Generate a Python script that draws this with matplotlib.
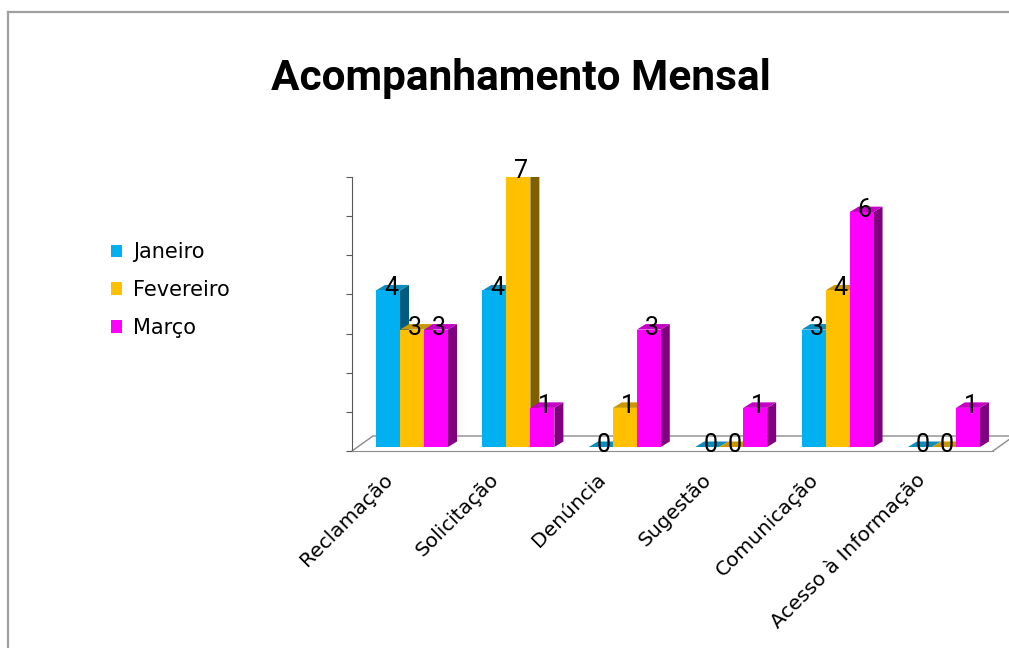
import numpy as np
import matplotlib
matplotlib.use("Agg")
import matplotlib.pyplot as plt
from matplotlib.patches import Polygon
from matplotlib.lines import Line2D

categorias = ['Reclamação', 'Solicitação', 'Denúncia', 'Sugestão', 'Comunicação', 'Acesso à Informação']
meses = ['Janeiro', 'Fevereiro', 'Março']
janeiro = [4, 4, 0, 0, 3, 0]
fevereiro = [3, 7, 1, 0, 4, 0]
marco = [3, 1, 3, 1, 6, 1]

# front / top / side colours for each series
cores = [('#00B0F0', '#0E8DBF', '#005D80'),
         ('#FFC000', '#C99700', '#7F6000'),
         ('#FF00FF', '#C400C4', '#800080')]

narrow = ['Liberation Sans Narrow', 'Roboto', 'DejaVu Sans']

fig = plt.figure(figsize=(10.09, 6.48), dpi=100)
ax = fig.add_axes([352/1009, (648-451)/648, 641/1009, 274/648])
ax.set_xlim(-0.564, 5.461)
ax.set_ylim(0, 7)

pxx = 1/106.4   # data units per pixel (x)
pxy = 7/274     # data units per pixel (y)
w = 24*pxx
base = 4*pxy
ddx, ddy = 9*pxx, 5.5*pxy

x = np.arange(len(categorias))
series = [janeiro, fevereiro, marco]

# painter's order: left to right
for i in range(len(categorias)):
    for k, vals in enumerate(series):
        front, top, side = cores[k]
        xl = x[i] + (k - 1.5)*w
        xr = xl + w
        h = base + vals[i]
        ax.add_patch(Polygon([(xr, base), (xr+ddx, base+ddy), (xr+ddx, h+ddy), (xr, h)],
                             closed=True, fc=side, ec='none', zorder=3))
        ax.add_patch(Polygon([(xl, h), (xr, h), (xr+ddx, h+ddy), (xl+ddx, h+ddy)],
                             closed=True, fc=top, ec='none', zorder=3))
        ax.bar(xl, vals[i], width=w, bottom=base, align='edge', color=front, zorder=3)
        ax.text(xl + w/2 + 3*pxx, h + 2*pxy, str(vals[i]), ha='center', va='center',
                fontsize=18, family=narrow, zorder=5)

# floor of the 3D plot
fdx, fdy = 21*pxx, 15*pxy
x0, x1 = ax.get_xlim()
floor = dict(color='#8C8C8C', lw=1, clip_on=False, zorder=1)
ax.add_line(Line2D([x0, x0+fdx, x1+fdx+0.2], [0, fdy, fdy], **floor))
ax.add_line(Line2D([x1, x1+fdx], [0, fdy], **floor))

for s in ['top', 'right']:
    ax.spines[s].set_visible(False)
ax.spines['bottom'].set_color('#8C8C8C')
ax.spines['left'].set_color('#595959')
ax.set_yticks(range(0, 8))
ax.set_yticklabels([])
ax.tick_params(axis='y', length=4, color='#595959')
ax.set_xticks([])

for i, c in enumerate(categorias):
    ax.annotate(c, xy=(x[i], 0), xycoords=('data', 'axes fraction'),
                xytext=(-16, -18.5), textcoords='offset points',
                rotation=45, ha='right', va='center', rotation_mode='anchor',
                fontsize=14.5, family='DejaVu Sans')

handles = [plt.Rectangle((0, 0), 1, 1, fc=cores[k][0]) for k in range(3)]
fig.legend(handles, meses, loc='center left', bbox_to_anchor=(111/1009, 1-290/648),
           frameon=False, handlelength=0.55, handleheight=0.55,
           handletextpad=0.5, labelspacing=0.85, borderpad=0, borderaxespad=0,
           prop={'family': 'DejaVu Sans', 'size': 15})

fig.text(521/1009, 1-90/648, 'Acompanhamento Mensal', ha='center', va='baseline',
         fontsize=30.5, fontweight='bold', family=narrow)

# chart border
border = dict(color='#A0A0A0', lw=1.6)
fig.add_artist(Line2D([8/1009, 8/1009], [0, 1-12/648], transform=fig.transFigure, **border))
fig.add_artist(Line2D([8/1009, 1], [1-12/648, 1-12/648], transform=fig.transFigure, **border))

fig.savefig('out.png', dpi=100)
